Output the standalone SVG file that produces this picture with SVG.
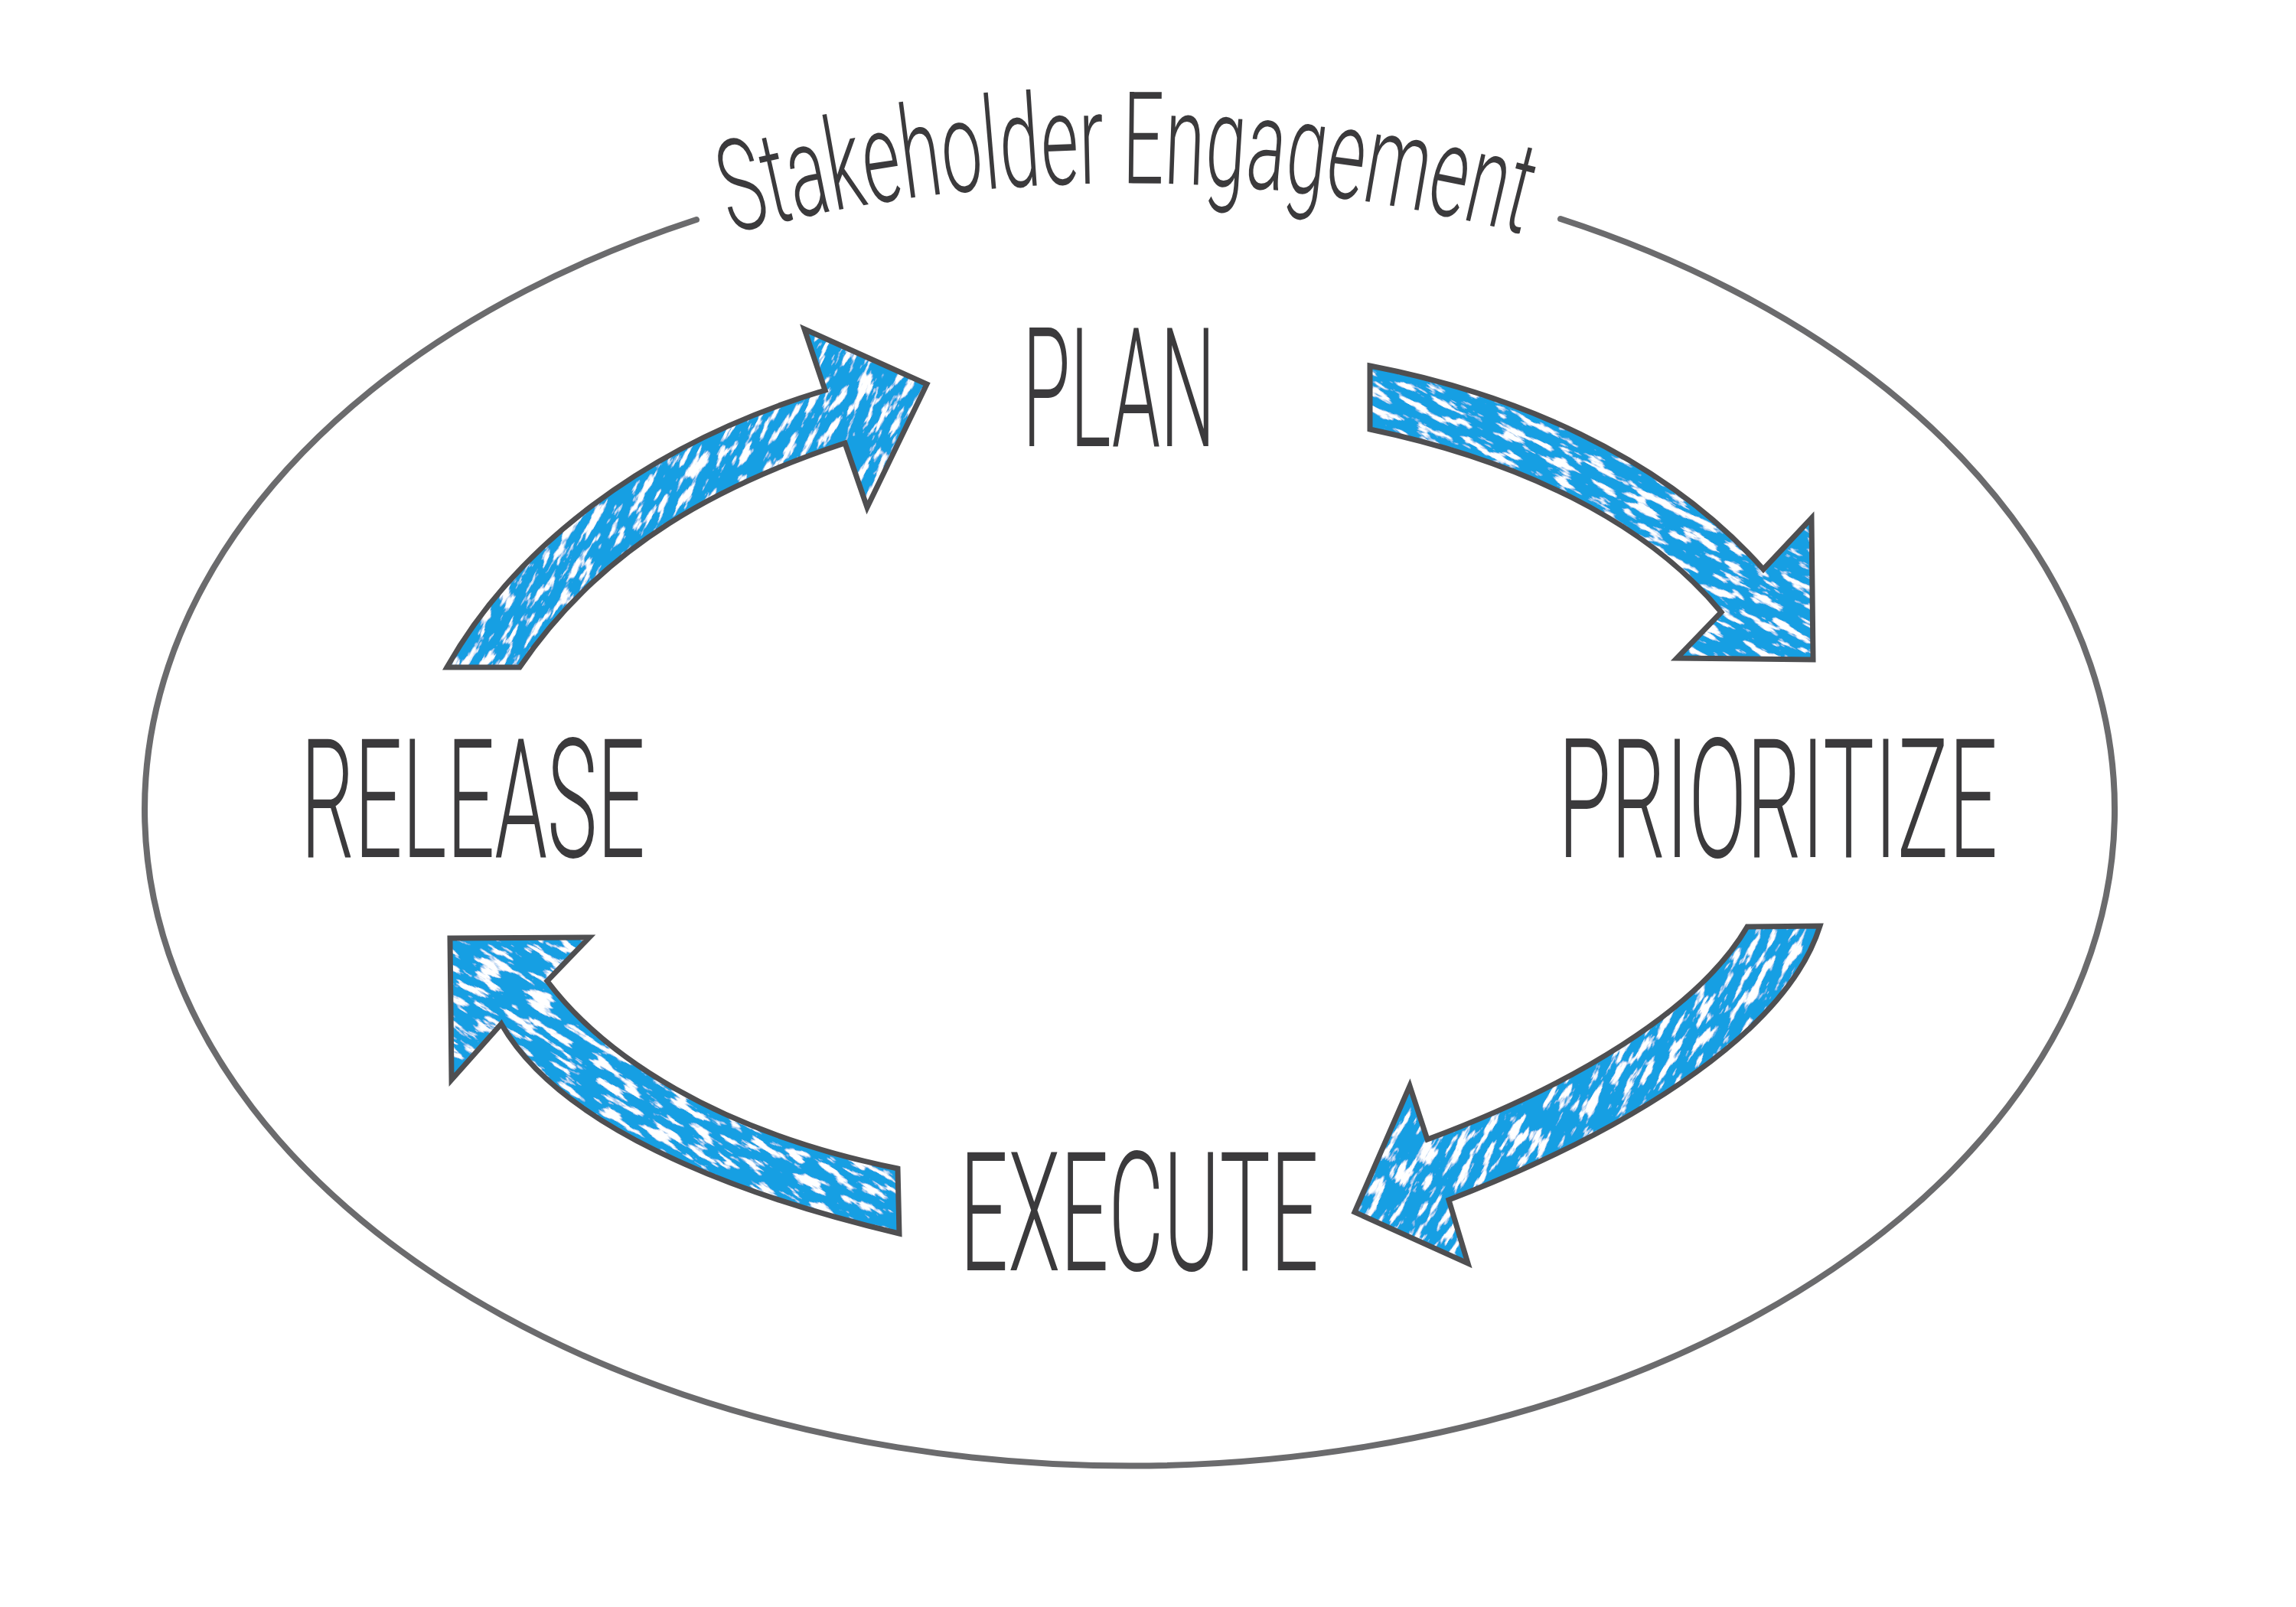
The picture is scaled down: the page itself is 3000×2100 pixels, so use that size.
<svg xmlns="http://www.w3.org/2000/svg" xmlns:xlink="http://www.w3.org/1999/xlink" width="3000" height="2100" viewBox="0 0 3000 2100">
  <style>
    .label { font-family: Roboto, "Open Sans", "Liberation Sans", sans-serif; font-weight: 300; fill: #3b3a3c; font-size: 218px; }
    .title { font-family: Roboto, "Open Sans", "Liberation Sans", sans-serif; font-weight: 300; fill: #3b3a3c; font-size: 168px; }
    .ring { fill: none; stroke: #6b6b6d; stroke-width: 8; stroke-linecap: round; }
    .arrow-fill { fill: #149fe3; stroke: none; }
    .arrow-line { fill: none; stroke: #4f4f51; stroke-width: 7; stroke-linejoin: miter; stroke-miterlimit: 10; }
  </style>
  <defs>
    <filter id="chalk" filterUnits="userSpaceOnUse" x="-1500" y="-1500" width="6000" height="6000">
      <feTurbulence type="fractalNoise" baseFrequency="0.026 0.1" numOctaves="4" seed="11" result="noise"/>
      <feColorMatrix in="noise" type="matrix" values="0 0 0 0 1  0 0 0 0 1  0 0 0 0 1  11 0 0 0 -6.1" result="spots"/>
      <feComposite in="spots" in2="SourceAlpha" operator="in" result="clipped"/>
      <feMerge>
        <feMergeNode in="SourceGraphic"/>
        <feMergeNode in="clipped"/>
      </feMerge>
    </filter>
    <path id="a1" d="M 584 872 C 670 720 838 582 1078 510 L 1051 430 L 1211 502 L 1133 663 L 1104 579 C 947 631 789 710 679 872 Z"/>
    <path id="a2" d="M 1790 478 C 1972 513 2169 592 2304 744 L 2367 677 L 2369 862 L 2191 860 L 2249 800 C 2150 680 1982 601 1790 561 Z"/>
    <path id="a3" d="M 2283 1211 L 2378 1210 C 2337 1341 2150 1469 1893 1568 L 1918 1651 L 1770 1584 L 1842 1419 L 1865 1489 C 2051 1420 2219 1321 2283 1211 Z"/>
    <path id="a4" d="M 588 1226 L 770 1225 L 715 1282 C 789 1380 937 1479 1173 1527 L 1175 1612 C 947 1558 730 1469 655 1338 L 590 1411 Z"/>
    <path id="titleArc" d="M 920 315 A 2051 2051 0 0 1 2024 315"/>
  </defs>

  <rect width="3000" height="2100" fill="#ffffff"/>

  <g id="stakeholder-engagement">
    <path class="ring" d="M 910 287 A 1287 858 0 1 0 2039 286"/>
    <text class="title"><textPath href="#titleArc" xlink:href="#titleArc" startOffset="50%" text-anchor="middle" textLength="1045" lengthAdjust="spacingAndGlyphs">Stakeholder Engagement</textPath></text>
  </g>

  <g id="connectors">
    <g id="arrow-release-plan">
      <g transform="rotate(-62 900 650)" filter="url(#chalk)">
        <use href="#a1" xlink:href="#a1" class="arrow-fill" transform="rotate(62 900 650)"/>
      </g>
      <use href="#a1" xlink:href="#a1" class="arrow-line"/>
    </g>
    <g id="arrow-plan-prioritize">
      <g transform="rotate(28 2080 670)" filter="url(#chalk)">
        <use href="#a2" xlink:href="#a2" class="arrow-fill" transform="rotate(-28 2080 670)"/>
      </g>
      <use href="#a2" xlink:href="#a2" class="arrow-line"/>
    </g>
    <g id="arrow-prioritize-execute">
      <g transform="rotate(-60 2070 1430)" filter="url(#chalk)">
        <use href="#a3" xlink:href="#a3" class="arrow-fill" transform="rotate(60 2070 1430)"/>
      </g>
      <use href="#a3" xlink:href="#a3" class="arrow-line"/>
    </g>
    <g id="arrow-execute-release">
      <g transform="rotate(32 880 1420)" filter="url(#chalk)">
        <use href="#a4" xlink:href="#a4" class="arrow-fill" transform="rotate(-32 880 1420)"/>
      </g>
      <use href="#a4" xlink:href="#a4" class="arrow-line"/>
    </g>
  </g>

  <g id="node-plan">
    <text class="label" x="1336" y="583" textLength="252" lengthAdjust="spacingAndGlyphs">PLAN</text>
  </g>
  <g id="node-prioritize">
    <text class="label" x="2036" y="1120" textLength="574" lengthAdjust="spacingAndGlyphs">PRIORITIZE</text>
  </g>
  <g id="node-execute">
    <text class="label" x="1254" y="1660" textLength="469" lengthAdjust="spacingAndGlyphs">EXECUTE</text>
  </g>
  <g id="node-release">
    <text class="label" x="393" y="1120" textLength="450" lengthAdjust="spacingAndGlyphs">RELEASE</text>
  </g>
</svg>
